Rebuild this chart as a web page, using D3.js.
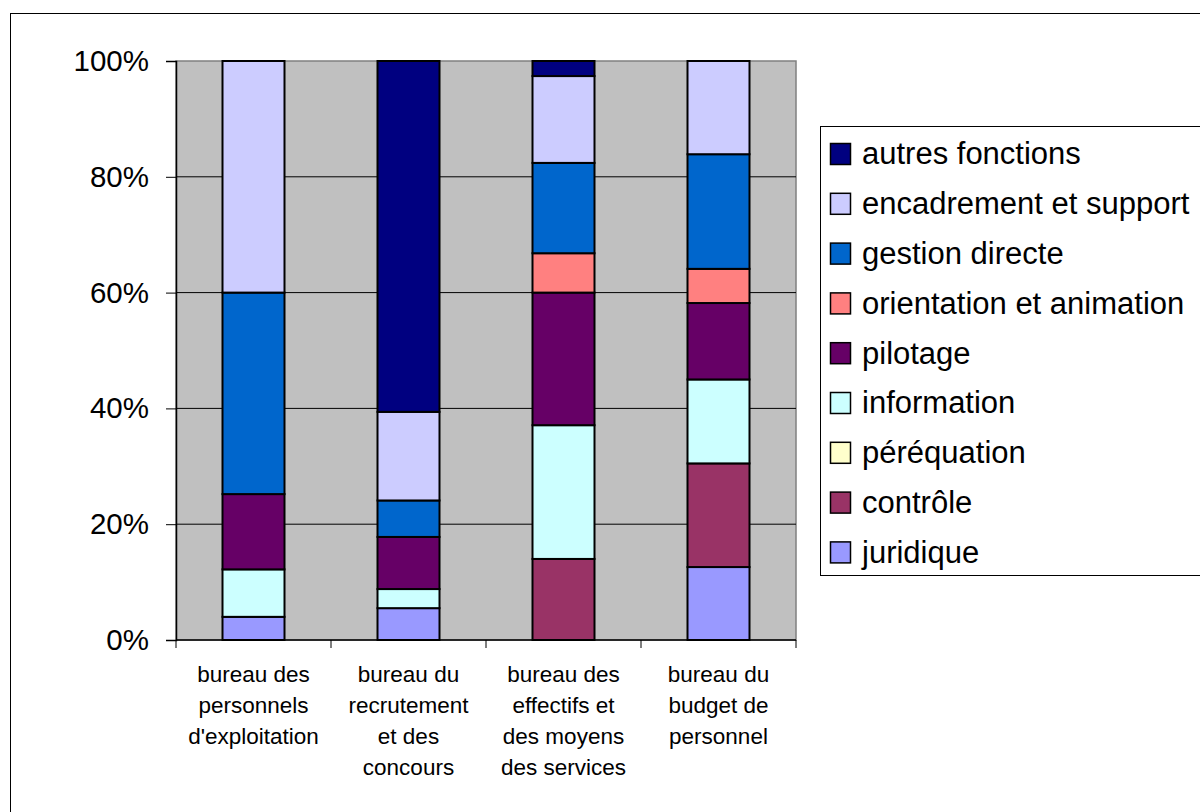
<!DOCTYPE html>
<html>
<head>
<meta charset="utf-8">
<script src="https://cdn.jsdelivr.net/npm/d3@7"></script>
<style>
  html, body { margin: 0; padding: 0; background: #fff; }
  svg { display: block; font-family: Arial, "Liberation Sans", sans-serif; }
</style>
</head>
<body>
<svg id="chart" width="1200" height="812"></svg>
<script>
// Bureaux (one stacked column each)
const categories = [
  ["bureau des", "personnels", "d'exploitation"],
  ["bureau du", "recrutement", "et des", "concours"],
  ["bureau des", "effectifs et", "des moyens", "des services"],
  ["bureau du", "budget de", "personnel"]
];

// Series, from the bottom of each column to the top (share in %)
const seriesNames = [
  "juridique", "contrôle", "péréquation", "information", "pilotage",
  "orientation et animation", "gestion directe", "encadrement et support", "autres fonctions"
];
const juridique   = [4.0, 5.5, 0.0, 12.6];
const controle    = [0.0, 0.0, 14.0, 17.9];
const perequation = [0.0, 0.0, 0.0, 0.0];
const information = [8.2, 3.3, 23.1, 14.5];
const pilotage    = [13.0, 9.0, 22.9, 13.2];
const orientation = [0.0, 0.0, 6.8, 5.9];
const gestion     = [34.8, 6.3, 15.6, 19.8];
const encadrement = [40.0, 15.3, 15.0, 16.1];
const autres      = [0.0, 60.6, 2.6, 0.0];

const seriesColors = [
  "#9999FF", "#993366", "#FFFFCC", "#CCFFFF", "#660066",
  "#FF8080", "#0066CC", "#CCCCFF", "#000080"
];

const yTicks = [0, 0.2, 0.4, 0.6, 0.8, 1];

const seriesValues = [juridique, controle, perequation, information, pilotage,
                      orientation, gestion, encadrement, autres];

const rows = categories.map((c, i) => {
  const r = { key: i };
  seriesNames.forEach((s, j) => { r[s] = seriesValues[j][i]; });
  return r;
});

const svg = d3.select("#chart");

// Outer chart frame
svg.append("rect")
  .attr("x", 10.5).attr("y", 13.5)
  .attr("width", 1300).attr("height", 900)
  .attr("fill", "#fff").attr("stroke", "#000").attr("stroke-width", 1);

const plot = { left: 176, right: 796, top: 61, bottom: 640 };

const x = d3.scaleBand()
  .domain(d3.range(categories.length))
  .range([plot.left, plot.right])
  .paddingInner(0.6).paddingOuter(0.3);

const y = d3.scaleLinear().domain([0, 1]).range([plot.bottom, plot.top]);

// Plot area
svg.append("rect")
  .attr("x", plot.left).attr("y", plot.top)
  .attr("width", plot.right - plot.left).attr("height", plot.bottom - plot.top)
  .attr("fill", "#C0C0C0").attr("stroke", "#808080").attr("stroke-width", 1.5);

// Gridlines
svg.append("g")
  .selectAll("line")
  .data(yTicks.filter(t => t > 0 && t < 1))
  .join("line")
  .attr("x1", plot.left).attr("x2", plot.right)
  .attr("y1", d => y(d)).attr("y2", d => y(d))
  .attr("stroke", "#000").attr("stroke-width", 1);

// Stacked columns
const stack = d3.stack().keys(seriesNames).offset(d3.stackOffsetExpand);
const layers = stack(rows);

svg.append("g")
  .selectAll("g")
  .data(layers)
  .join("g")
  .attr("fill", (d, i) => seriesColors[i])
  .selectAll("rect")
  .data(d => d.filter(p => p[1] - p[0] > 0))
  .join("rect")
  .attr("x", d => x(d.data.key))
  .attr("width", x.bandwidth())
  .attr("y", d => y(d[1]))
  .attr("height", d => y(d[0]) - y(d[1]))
  .attr("stroke", "#000").attr("stroke-width", 2);

// Y axis
const yAxis = svg.append("g")
  .attr("transform", `translate(${plot.left},0)`)
  .call(d3.axisLeft(y).tickValues(yTicks).tickFormat(d3.format(".0%")).tickSize(10).tickPadding(17));
yAxis.select(".domain").attr("stroke", "#000").attr("stroke-width", 1.5);
yAxis.selectAll(".tick line").attr("stroke", "#000");
yAxis.selectAll("text")
  .attr("font-size", 29.5).attr("fill", "#000")
  .attr("font-family", "Arial, 'Liberation Sans', sans-serif");

// X axis with ticks at the category boundaries
const xAxisG = svg.append("g").attr("transform", `translate(0,${plot.bottom})`);
xAxisG.append("line")
  .attr("x1", plot.left).attr("x2", plot.right)
  .attr("stroke", "#000").attr("stroke-width", 1.5);
xAxisG.selectAll("line.tick")
  .data(d3.range(categories.length + 1))
  .join("line")
  .attr("class", "tick")
  .attr("x1", i => plot.left + i * (plot.right - plot.left) / categories.length)
  .attr("x2", i => plot.left + i * (plot.right - plot.left) / categories.length)
  .attr("y1", 0).attr("y2", 8)
  .attr("stroke", "#000").attr("stroke-width", 1);

// Category labels
const labels = svg.append("g")
  .selectAll("text")
  .data(categories)
  .join("text")
  .attr("x", (d, i) => x(i) + x.bandwidth() / 2)
  .attr("y", 682)
  .attr("text-anchor", "middle")
  .attr("font-size", 22.5)
  .attr("fill", "#000");
labels.selectAll("tspan")
  .data(d => d)
  .join("tspan")
  .attr("x", function () { return d3.select(this.parentNode).attr("x"); })
  .attr("dy", (d, i) => i === 0 ? 0 : 31)
  .text(d => d);

// Legend (top entry is the top of the stack)
const legend = svg.append("g");
legend.append("rect")
  .attr("x", 820.5).attr("y", 126.5)
  .attr("width", 420).attr("height", 449)
  .attr("fill", "#fff").attr("stroke", "#000").attr("stroke-width", 1);

const legendOrder = d3.range(seriesNames.length).reverse();
const items = legend.selectAll("g.item")
  .data(legendOrder)
  .join("g")
  .attr("class", "item")
  .attr("transform", (d, i) => `translate(830,${153.5 + i * 49.8})`);
items.append("rect")
  .attr("x", 0.5).attr("y", -10)
  .attr("width", 20).attr("height", 21)
  .attr("fill", d => seriesColors[d])
  .attr("stroke", "#000").attr("stroke-width", 1.5);
items.append("text")
  .attr("x", 32).attr("y", 0)
  .attr("dy", "0.35em")
  .attr("font-size", 31)
  .attr("fill", "#000")
  .text(d => seriesNames[d]);
</script>
</body>
</html>
